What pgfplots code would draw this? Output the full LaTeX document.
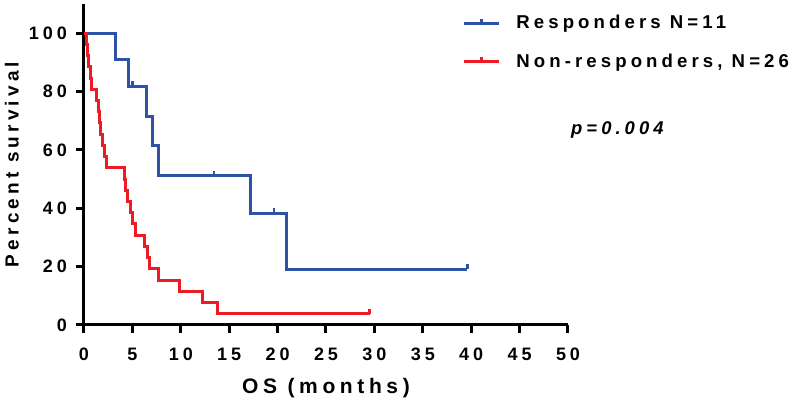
\documentclass[border=0pt]{standalone}
\usepackage{fontspec}
\setmainfont{Liberation Sans}[LetterSpace=22]
\usepackage{pgfplots}
\pgfplotsset{compat=1.18}
\definecolor{respblue}{RGB}{46,82,165}
\definecolor{nonred}{RGB}{237,28,36}
% censor tick: short stroke pointing up
\pgfdeclareplotmark{cens}{%
  \pgfpathmoveto{\pgfpointorigin}%
  \pgfpathlineto{\pgfpoint{0pt}{\pgfplotmarksize}}%
  \pgfusepathqstroke}

\begin{document}
\begin{tikzpicture}
\useasboundingbox (-42pt,-38pt) rectangle (358pt,162.5pt);
\begin{axis}[
    scale only axis,
    width=242pt, height=160.5pt,
    xmin=0, xmax=50, ymin=0, ymax=110,
    xtick={0,5,...,50}, ytick={0,20,...,100},
    axis x line*=bottom, axis y line*=left,
    axis line style={line width=1.5pt, black},
    tick align=outside, major tick length=4pt,
    major tick style={line width=1.5pt, black},
    /pgf/number format/assume math mode=true,
    ticklabel style={font=\bfseries\fontsize{9}{10}\selectfont},
    xticklabel style={yshift=-4pt},
    yticklabel style={xshift=-1pt},
    xlabel={OS (months)}, ylabel={Percent survival},
    xlabel style={font=\bfseries\fontsize{10.5}{12}\selectfont, at={(axis description cs:0.5,-0.195)}, anchor=center},
    ylabel style={font=\bfseries\fontsize{9.5}{11}\selectfont, at={(axis description cs:-0.149,0.5)}, anchor=center},
    clip=false,
    legend style={at={(rel axis cs:0.781,0.978)}, anchor=north west, draw=none, fill=none,
        font=\bfseries\fontsize{9.3}{11}\selectfont, row sep=6.8pt, inner sep=0pt,
        /tikz/every odd column/.append style={column sep=6pt}},
    legend cell align=left,
    legend image code/.code={%
        \draw[#1] (0pt,0pt) -- (17.5pt,0pt);
        \draw[#1] (8.75pt,0pt) -- (8.75pt,2.5pt);},
]
% Responders
\addplot[const plot mark left, respblue, line width=1.5pt] coordinates {
    (0,100) (3.3,90.91) (4.6,81.82) (6.5,71.59) (7.1,61.36) (7.7,51.14)
    (17.2,38.35) (20.9,19.18) (39.6,19.18)
};
\addlegendentry{Responders N=11}
% Non-responders
\addplot[const plot mark left, nonred, line width=1.5pt] coordinates {
    (0,100) (0.3,96.15) (0.4,92.31) (0.5,88.46) (0.7,84.62) (0.8,80.77)
    (1.25,76.92) (1.45,73.08) (1.6,69.23) (1.7,65.38) (1.9,61.54) (2.1,57.69)
    (2.3,53.85) (4.2,50.00) (4.3,46.15) (4.5,42.31) (4.8,38.46) (5.0,34.62)
    (5.3,30.77) (6.3,26.92) (6.55,23.08) (6.8,19.23) (7.7,15.38) (9.9,11.54)
    (12.25,7.69) (13.8,3.85) (29.5,3.85)
};
\addlegendentry{Non-responders, N=26}
% censored observations
\addplot[forget plot, only marks, mark=cens, mark size=2.5pt, respblue, line width=1.2pt] coordinates {
    (5.0,81.82) (13.4,51.14) (19.6,38.35) (39.6,19.18)
};
\addplot[forget plot, only marks, mark=cens, mark size=2.5pt, nonred, line width=1.2pt] coordinates {
    (29.5,3.85)
};
\node[font=\bfseries\itshape\fontsize{9.2}{11}\selectfont] at (axis cs:55.1,66.8) {p=0.004};
\end{axis}
\end{tikzpicture}
\end{document}
